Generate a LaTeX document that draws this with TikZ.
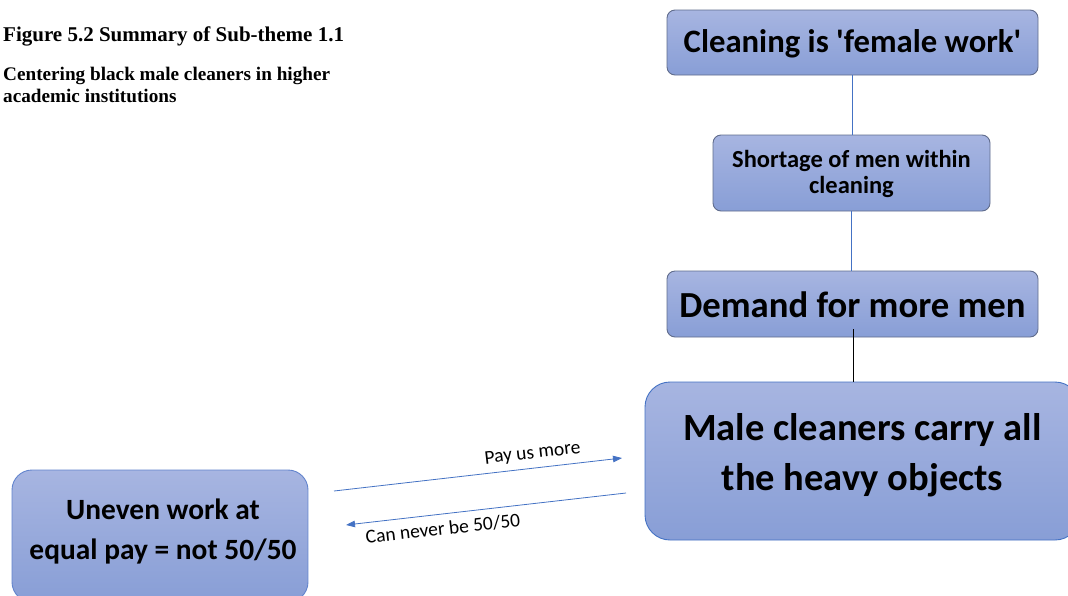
\documentclass[tikz,border=0pt]{standalone}
\usepackage{fontspec}
\setmainfont{Carlito}
\newfontfamily\headfont{Liberation Serif}
\usetikzlibrary{arrows.meta}
\definecolor{boxtop}{RGB}{167,181,225}
\definecolor{boxbot}{RGB}{136,158,214}
\definecolor{edgegray}{RGB}{96,108,140}
\definecolor{linkblue}{RGB}{68,114,196}
\definecolor{edgeblue}{RGB}{98,132,205}
\newcommand{\fsz}[2]{\fontsize{#1}{#2}\selectfont}
\tikzset{
  box/.style={draw=edgegray, line width=0.9pt, top color=boxtop, bottom color=boxbot,
    rounded corners=8pt, inner sep=0pt},
  boxtext/.style={align=center, inner sep=0pt, text=black, font=\bfseries},
  heading/.style={anchor=base west, inner sep=0pt, font=\headfont\bfseries},
  link/.style={draw=linkblue, line width=0.9pt},
  flow/.style={draw=linkblue, line width=0.8pt, -{Triangle[length=9pt,width=6.5pt]}},
  flowlabel/.style={sloped, inner sep=0pt, font=\fsz{19.5}{21}}
}
\begin{document}
\begin{tikzpicture}[x=1pt,y=-1pt]
\useasboundingbox (0,0) rectangle (1068,595);
\fill[white] (0,0) rectangle (1068,595);

% headings
\node[heading, font=\headfont\bfseries\fsz{21}{24}] (h1) at (3,41) {Figure 5.2 Summary of Sub-theme 1.1};
\node[heading, font=\headfont\bfseries\fsz{19.2}{22}] (h2) at (3,80) {Centering black male cleaners in higher};
\node[heading, font=\headfont\bfseries\fsz{19.2}{22}] (h3) at (3,102) {academic institutions};

% chain of boxes
\node[box, minimum width=371pt, minimum height=65pt] (b1) at (852.5,42.5) {};
\node[boxtext, font=\bfseries\fsz{32.7}{36}] (t1) at (852.5,44) {Cleaning is \textquotesingle female work\textquotesingle};

\node[box, minimum width=277pt, minimum height=76pt] (b2) at (851.5,173) {};
\node[boxtext, font=\bfseries\fsz{24.5}{26.5}] (t2) at (851.5,174) {Shortage of men within\\cleaning};

\node[box, minimum width=371pt, minimum height=66pt] (b3) at (852.5,304) {};
\node[boxtext, font=\bfseries\fsz{36.7}{40}] (t3) at (852.5,305) {Demand for more men};

\node[box, draw=linkblue, rounded corners=25pt, minimum width=435pt, minimum height=158pt] (b4) at (862.5,461) {};
\node[boxtext, font=\bfseries\fsz{38.5}{50}] (t4) at (862.5,455) {Male cleaners carry all\\the heavy objects};

\node[box, draw=edgeblue, rounded corners=20pt, minimum width=296pt, minimum height=132pt] (b5) at (160,536) {};
\node[boxtext, font=\bfseries\fsz{29.4}{40}] (t5) at (163,531) {Uneven work at\\equal pay = not 50/50};

% vertical links
\draw[link] (b1.south) -- (b1.south |- b2.north);
\draw[link] (b2.south) -- (b2.south |- b3.north);
\coordinate (d3) at (853,329);
\draw[black, line width=0.8pt] (d3) -- (d3 |- b4.north);

% exchange between the two bottom boxes
\coordinate (p1) at (334,491);
\coordinate (p2) at (622,458);
\coordinate (q1) at (626,493);
\coordinate (q2) at (346,525);
\draw[flow] (p1) -- node[flowlabel, above=6pt, pos=0.695] (l1) {Pay us more} (p2);
\draw[flow] (q1) -- node[flowlabel, below=7pt, pos=0.66] (l2) {Can never be 50/50} (q2);
\end{tikzpicture}
\end{document}
